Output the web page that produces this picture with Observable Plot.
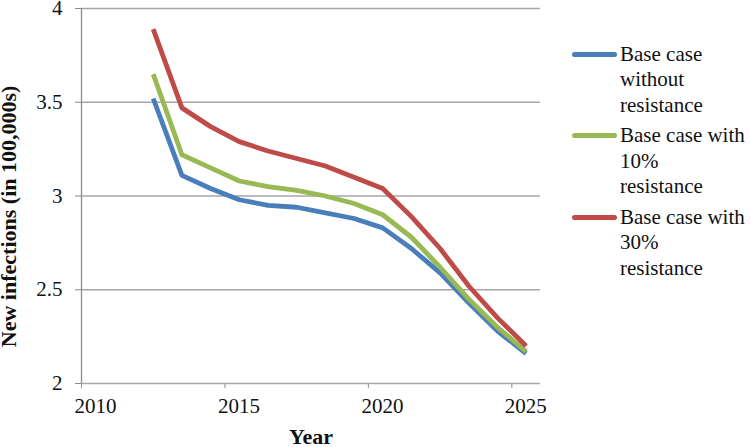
<!DOCTYPE html>
<html><head><meta charset="utf-8">
<script src="https://cdn.jsdelivr.net/npm/d3@7"></script>
<script src="https://cdn.jsdelivr.net/npm/@observablehq/plot@0.6"></script>
<style>
body{margin:0;background:#fff;}
#wrap{position:relative;width:750px;height:447px;overflow:hidden;font-family:"Liberation Serif","Times New Roman",serif;background:#fff;}
#wrap svg text{fill:#111;font-family:"Liberation Serif","Times New Roman",serif !important;font-size:21px;}
#wrap svg text.title{font-size:22px !important;font-weight:bold;}
#legend{position:absolute;left:572px;top:41.5px;}
.entry{position:relative;height:81.7px;width:178px;}
.swatch{position:absolute;left:0;top:10.3px;width:45px;height:5px;border-radius:2.5px;}
.label{position:absolute;left:48px;top:0;font-size:21px;line-height:25.5px;white-space:nowrap;color:#111;}
</style></head>
<body>
<div id="wrap"><div id="chart"></div><div id="legend"></div></div>
<script>
const years = [2012.5, 2013.5, 2014.5, 2015.5, 2016.5, 2017.5, 2018.5, 2019.5, 2020.5, 2021.5, 2022.5, 2023.5, 2024.5, 2025.5];
const baseNoRes = [3.52, 3.11, 3.04, 2.98, 2.95, 2.94, 2.91, 2.88, 2.83, 2.72, 2.59, 2.43, 2.28, 2.16];
const base10 = [3.65, 3.22, 3.15, 3.08, 3.05, 3.03, 3.00, 2.96, 2.90, 2.78, 2.62, 2.45, 2.30, 2.17];
const base30 = [3.89, 3.47, 3.37, 3.29, 3.24, 3.20, 3.16, 3.10, 3.04, 2.89, 2.72, 2.52, 2.35, 2.20];
const seriesNames = ["Base case without resistance", "Base case with 10% resistance", "Base case with 30% resistance"];
const legendLines = [["Base case", "without", "resistance"], ["Base case with", "10%", "resistance"], ["Base case with", "30%", "resistance"]];
const colors = ["#4A7EBB", "#98B954", "#BE4B48"];
const xTicks = [2010, 2015, 2020, 2025];
const yTicks = [2, 2.5, 3, 3.5, 4];
const xTitle = "Year";
const yTitle = "New infections (in 100,000s)";

const allSeries = [baseNoRes, base10, base30];
const rows = allSeries.flatMap((vals, s) => vals.map((v, i) => ({year: years[i], value: v, series: seriesNames[s]})));

const chart = Plot.plot({
  width: 750, height: 447,
  marginLeft: 81, marginRight: 210, marginTop: 8, marginBottom: 64,
  style: {fontFamily: "'Liberation Serif','Times New Roman',serif", fontSize: "21px", color: "#8C8C8C", background: "white", overflow: "visible"},
  x: {domain: [2010, 2026], ticks: xTicks, tickFormat: d => String(d), tickSize: 5, tickPadding: 10, label: null},
  y: {domain: [2, 4], ticks: yTicks, tickFormat: d => String(d), tickSize: 6, tickPadding: 13, label: null},
  color: {domain: seriesNames, range: colors},
  marks: [
    Plot.ruleY(yTicks, {stroke: "#A6A6A6", strokeWidth: 1.3}),
    Plot.ruleX([2010], {stroke: "#8C8C8C", strokeWidth: 1.3}),
    Plot.line(rows, {x: "year", y: "value", z: "series", stroke: "series", strokeWidth: 4.8, strokeLinejoin: "round", strokeLinecap: "butt"}),
    Plot.text([xTitle], {frameAnchor: "bottom", lineAnchor: "middle", textAnchor: "middle", dy: 53.7, fontWeight: "bold", fontSize: 22, fill: "#111"}),
    Plot.text([yTitle], {frameAnchor: "left", lineAnchor: "middle", textAnchor: "middle", rotate: -90, dx: -72.7, dy: 20.4, fontWeight: "bold", fontSize: 22, fill: "#111"})
  ]
});
document.getElementById("chart").appendChild(chart);
const xTickStrings = xTicks.map(String);
chart.querySelectorAll("text").forEach(t => {
  const s = t.textContent;
  if (s === xTitle || s === yTitle) t.classList.add("title");
  else if (xTickStrings.includes(s)) t.setAttribute("dx", "14");
});

const legend = document.getElementById("legend");
seriesNames.forEach((name, i) => {
  const e = document.createElement("div");
  e.className = "entry";
  const sw = document.createElement("div");
  sw.className = "swatch";
  sw.style.background = colors[i];
  const lb = document.createElement("div");
  lb.className = "label";
  lb.innerHTML = legendLines[i].join("<br>");
  e.appendChild(sw); e.appendChild(lb);
  legend.appendChild(e);
});
</script>
</body></html>
